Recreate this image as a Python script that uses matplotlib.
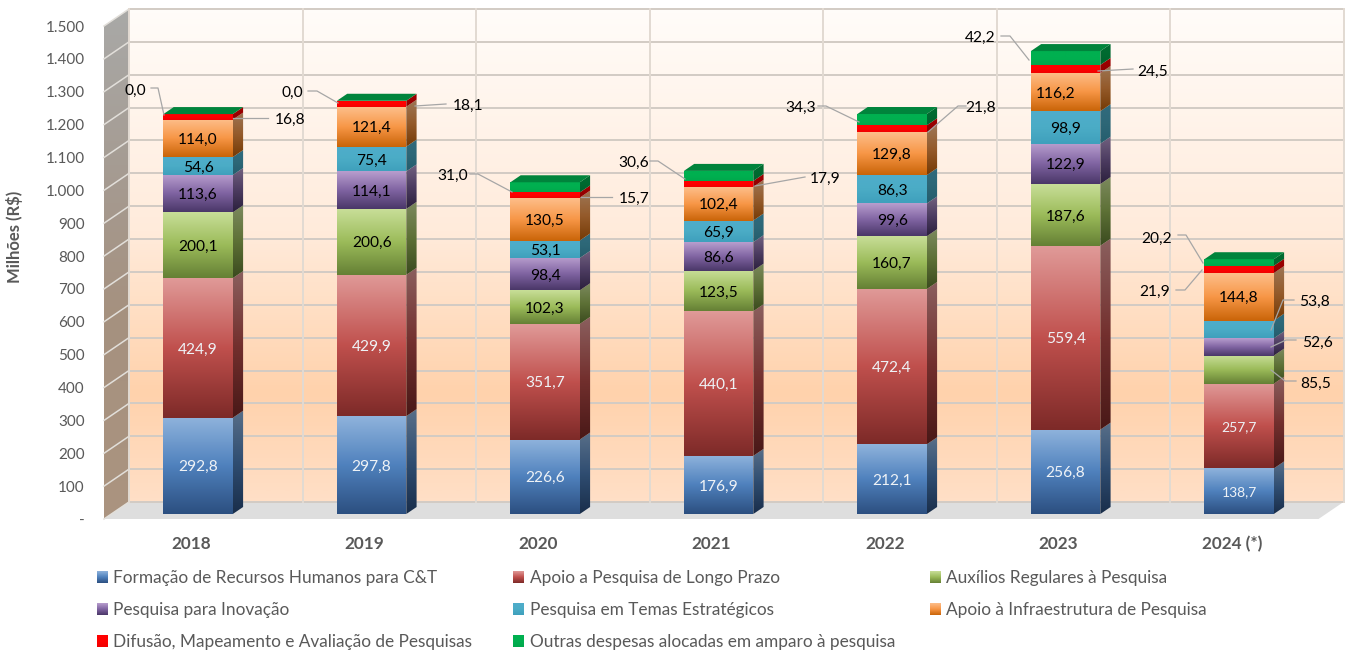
import numpy as np
import matplotlib
matplotlib.use('Agg')
import matplotlib.pyplot as plt
from matplotlib.colors import LinearSegmentedColormap
from matplotlib.patches import Polygon

years = ['2018', '2019', '2020', '2021', '2022', '2023', '2024 (*)']
names = ['Formação de Recursos Humanos para C&T', 'Apoio a Pesquisa de Longo Prazo',
         'Auxílios Regulares à Pesquisa', 'Pesquisa para Inovação',
         'Pesquisa em Temas Estratégicos', 'Apoio à Infraestrutura de Pesquisa',
         'Difusão, Mapeamento e Avaliação de Pesquisas', 'Outras despesas alocadas em amparo à pesquisa']

formacao = [292.8, 297.8, 226.6, 176.9, 212.1, 256.8, 138.7]
longo = [424.9, 429.9, 351.7, 440.1, 472.4, 559.4, 257.7]
auxilios = [200.1, 200.6, 102.3, 123.5, 160.7, 187.6, 85.5]
inovacao = [113.6, 114.1, 98.4, 86.6, 99.6, 122.9, 52.6]
temas = [54.6, 75.4, 53.1, 65.9, 86.3, 98.9, 53.8]
infra = [114.0, 121.4, 130.5, 102.4, 129.8, 116.2, 144.8]
difusao = [16.8, 18.1, 15.7, 17.9, 21.8, 24.5, 21.9]
outras = [0.0, 0.0, 31.0, 30.6, 34.3, 42.2, 20.2]
series = [formacao, longo, auxilios, inovacao, temas, infra, difusao, outras]

yticks = list(range(0, 1600, 100))

# top, middle, bottom of the front faces
colors = [('#8FB3DC', '#4F81BD', '#2C4F80'), ('#E09A98', '#C0504D', '#7D2A28'),
          ('#C8DE98', '#9BBB59', '#658035'), ('#B89ECE', '#8064A2', '#4A3768'),
          ('#4FADCB', '#4BACC6', '#3FA0BC'), ('#FDBE8A', '#F79646', '#C96408'),
          ('#FF0000', '#FF0000', '#F00000'), ('#00B050', '#00B050', '#00A84C')]
text_white = [True, True, False, False, False, False, False, False]

# labels outside the bars: year, series, text centre and leader line, in image pixels
callouts = [
    (0, 7, (135, 89), [(151, 88), (158, 88), (164, 115)]),
    (0, 6, (290, 118), [(268, 118), (233, 118)]),
    (1, 7, (292, 91), [(308, 91), (317, 91), (338, 103)]),
    (1, 6, (468, 104), [(446, 104), (415, 106)]),
    (2, 7, (453, 174), [(470, 174), (478, 174), (512, 192)]),
    (2, 6, (634, 197), [(612, 197), (581, 197)]),
    (3, 7, (634, 161), [(650, 161), (658, 161), (685, 179)]),
    (3, 6, (825, 177), [(805, 177), (755, 186)]),
    (4, 7, (801, 106), [(818, 106), (826, 106), (859, 122)]),
    (4, 6, (981, 106), [(966, 106), (958, 106), (928, 132)]),
    (5, 7, (980, 36), [(1001, 36), (1010, 36), (1029, 60)]),
    (5, 6, (1153, 70), [(1133, 69), (1098, 71)]),
    (6, 7, (1157, 237), [(1178, 235), (1186, 235), (1203, 263)]),
    (6, 6, (1155, 290), [(1176, 290), (1185, 290), (1202, 270)]),
    (6, 4, (1314, 300), [(1294, 300), (1283, 300), (1271, 330)]),
    (6, 3, (1317, 341), [(1296, 340), (1286, 340), (1271, 347)]),
    (6, 2, (1316, 382), [(1296, 381), (1285, 381), (1271, 370)]),
]
outside = {(c[0], c[1]) for c in callouts}
small = {(6, 0), (6, 1)}
shift = {(5, 5): -10}

W, H = 1349, 652
plt.rcParams['font.family'] = ['Lato', 'DejaVu Sans']

fig = plt.figure(figsize=(W / 100, H / 100), dpi=100)
ax = fig.add_axes([104 / W, 1 - 519 / H, 1214.5 / W, 493 / H])
ax.set_autoscale_on(False)
ax.set_xlim(-0.5, 6.5)
ax.set_ylim(0, 1500)

DX = 25 / 173.5      # depth of the chart box in x units
DY = 17 / (493 / 1500)  # and in value units
BAR_D0 = 5 / 17
BAR_D1 = 12 / 17
BAR_W = 0.4


def proj(x, v, d):
    return (x + d * DX, v + d * DY)


def px(x, y):
    return ax.transData.inverted().transform(fig.transFigure.transform((x / W, 1 - y / H)))


def grad_poly(verts, cols, z):
    verts = np.array(verts)
    cmap = LinearSegmentedColormap.from_list('g', cols)
    grad = np.linspace(0, 1, 128)[:, None]
    ext = (verts[:, 0].min(), verts[:, 0].max(), verts[:, 1].min(), verts[:, 1].max())
    im = ax.imshow(grad, cmap=cmap, extent=ext, aspect='auto', origin='upper', zorder=z,
                   interpolation='bilinear', vmin=0, vmax=1)
    im.set_clip_box(fig.bbox)
    im.set_clip_path(Polygon(verts, transform=ax.transData))
    return im


def darker(c, f):
    rgb = np.array(matplotlib.colors.to_rgb(c)) * f
    return tuple(rgb)


# walls and floor
x0, x1 = -0.5, 6.5
top = yticks[-1]
wall_cols = [(0, '#FFFCF9'), (0.45, '#FFEBDB'), (0.78, '#FFD2AC'), (1, '#FFDFC6')]
grad_poly([proj(x0, 0, 1), proj(x1, 0, 1), proj(x1, top, 1), proj(x0, top, 1)], wall_cols, 1)
grad_poly([proj(x0, 0, 0), proj(x0, 0, 1), proj(x0, top, 1), proj(x0, top, 0)],
          [(0, '#A9A9A7'), (0.35, '#A59A90'), (0.6, '#A5917F'), (1, '#AB9480')], 1)
ax.add_patch(Polygon([proj(x0, 0, 0), proj(x1, 0, 0), proj(x1, 0, 1), proj(x0, 0, 1)],
                     facecolor='#DEDEDE', edgecolor='none', zorder=1, clip_on=False))

for v in yticks:
    a, b = proj(x0, v, 1), proj(x1, v, 1)
    ax.plot([a[0], b[0]], [a[1], b[1]], color='#D2CBC4', lw=1.4, zorder=2, clip_on=False)
    c = proj(x0, v, 0)
    ax.plot([c[0], a[0]], [c[1], a[1]], color='#E2DFDA', lw=1.1, zorder=2, clip_on=False)
for i in range(len(years) + 1):
    a, b = proj(i - 0.5, 0, 1), proj(i - 0.5, top, 1)
    ax.plot([a[0], b[0]], [a[1], b[1]], color='#E2DAD2', lw=1.4, zorder=2, clip_on=False)

# stacked bars, faked 3D
for i in range(len(years)):
    left = i - BAR_W / 2
    right = i + BAR_W / 2
    base = 0
    for s, vals in enumerate(series):
        v = vals[i]
        if v > 0:
            tl, bl = proj(left, base + v, BAR_D0), proj(left, base, BAR_D0)
            tr, br = proj(right, base + v, BAR_D0), proj(right, base, BAR_D0)
            tb, bb = proj(right, base + v, BAR_D1), proj(right, base, BAR_D1)
            grad_poly([bl, br, tr, tl], colors[s], 5)
            side = [darker(colors[s][0], 0.62), darker(colors[s][1], 0.6), darker(colors[s][2], 0.58)]
            grad_poly([br, bb, tb, tr], side, 4)
            if (i, s) not in outside:
                col = '#EEF2F6' if text_white[s] else 'black'
                size = 10 if (i, s) in small else 11.2
                xt = proj(i, base + v / 2, BAR_D0)
                xpix = shift.get((i, s), 0) / 173.5
                ax.text(xt[0] + xpix, xt[1], f'{v:.1f}'.replace('.', ','), color=col, fontsize=size,
                        ha='center', va='center_baseline', zorder=8)
        base += v
    # top face
    ax.add_patch(Polygon([proj(left, base, BAR_D0), proj(right, base, BAR_D0),
                          proj(right, base, BAR_D1), proj(left, base, BAR_D1)],
                         facecolor='#00843C', edgecolor='none', zorder=5))

# labels with leader lines
for i, s, pos, line in callouts:
    pts = np.array([px(*p) for p in line])
    ax.plot(pts[:, 0], pts[:, 1], color='#A6A6A6', lw=0.9, zorder=7, clip_on=False)
    tx, ty = px(*pos)
    ax.text(tx, ty, f'{series[s][i]:.1f}'.replace('.', ','), color='black', fontsize=11.2,
            ha='center', va='center_baseline', zorder=8, clip_on=False)

# axes
for sp in ax.spines.values():
    sp.set_visible(False)
ax.patch.set_visible(False)
ax.set_yticks(yticks)
ax.set_yticklabels(['-' if v == 0 else f'{v:,}'.replace(',', '.') for v in yticks], color='#595959', fontsize=11)
for lab in ax.get_yticklabels():
    lab.set_va('center_baseline')
ax.set_xticks(range(len(years)))
ax.set_xticklabels(years, color='#595959', fontsize=12.3, fontweight='bold')
ax.tick_params(axis='y', length=0, pad=14)
ax.tick_params(axis='x', length=0, pad=12)
fig.text(15 / W, 1 - 237 / H, 'Milhões (R$)', rotation=90, color='#595959', fontsize=12,
         fontweight='bold', ha='center', va='center')

# legend
col_x = [(97, 113), (513, 530), (930, 946)]
row_y = [577, 609, 641]
for k, name in enumerate(names):
    sx, tx = col_x[k % 3]
    y = row_y[k // 3]
    a, b = px(sx, y + 6), px(sx + 11, y - 6)
    grad_poly([(a[0], a[1]), (b[0], a[1]), (b[0], b[1]), (a[0], b[1])], colors[k], 5)
    fig.text(tx / W, 1 - y / H, name, color='#595959', fontsize=12.45, ha='left', va='center_baseline')

fig.savefig('out.png', dpi=100)
